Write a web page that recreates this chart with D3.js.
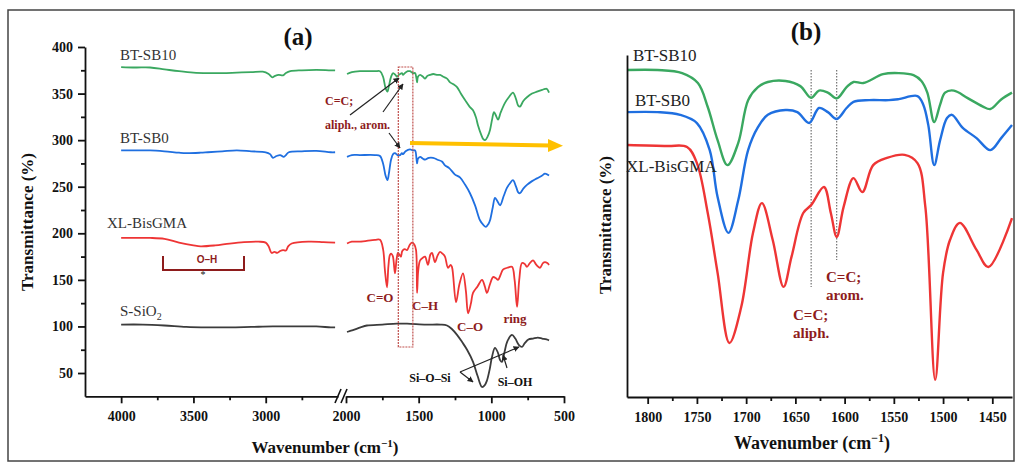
<!DOCTYPE html>
<html><head><meta charset="utf-8">
<script src="https://cdn.jsdelivr.net/npm/d3@7"></script>
<style>
html,body{margin:0;padding:0;background:#fff;}
svg{display:block;}
</style></head>
<body>
<svg id="c" width="1022" height="466"></svg>
<script>
// ---------------- Panel (a) data: [wavenumber cm-1, transmittance %] ----------------
const sb10A = [[4000,378.5],[3900,378],[3800,378],[3700,376],[3600,374],[3500,372.5],[3400,372],[3300,372],[3200,372.5],[3100,373],[3020,373.5],[2980,371],[2955,367.5],[2935,369],[2910,370],[2880,369.5],[2860,372],[2830,374],[2750,375],[2650,375.5],[2550,375],[2520,375],
 [1993,371],[1960,373],[1904,374],[1800,374],[1766,374],[1745,368],[1728,356],[1715,352],[1705,358],[1690,368],[1676,372],[1660,370],[1649,368],[1637,370],[1628,371],[1615,372],[1608,370],[1595,372],[1575,374],[1560,374],[1540,372],[1525,372],[1515,366],[1511,362],[1505,368],[1490,370],[1470,368],[1456,366],[1440,369],[1422,370],[1400,371],[1370,370],[1353,370],[1330,368],[1305,366],[1284,362],[1260,360],[1236,357],[1210,350],[1181,343],[1150,336],[1126,332],[1105,324],[1092,316],[1070,306],[1055,301],[1043,300],[1025,304],[1009,311],[995,322],[982,330],[970,327],[954,322],[935,330],[906,340],[880,346],[851,351],[830,344],[815,337],[803,336],[780,342],[755,346],[720,350],[686,352],[650,354],[630,355],[617,355],[603,351]];
const sb0A = [[4000,289],[3900,289],[3800,289],[3700,288],[3600,286.5],[3550,286],[3450,286.5],[3400,287],[3300,288],[3200,289],[3100,288],[3000,287],[2970,285],[2950,281],[2925,283],[2900,284],[2875,282],[2860,284],[2840,287],[2750,288],[2650,288.5],[2550,287],[2520,287],
 [1993,282],[1960,284],[1904,284],[1800,284],[1766,283],[1745,275],[1728,262],[1715,257],[1705,264],[1690,279],[1676,285],[1663,286],[1645,284],[1628,284],[1615,286],[1608,285],[1590,288],[1560,290],[1540,289],[1525,289],[1515,280],[1511,275],[1505,280],[1490,282],[1470,280],[1456,279],[1430,281],[1401,281],[1370,279],[1340,277],[1319,273],[1290,270],[1250,263],[1216,260],[1180,252],[1147,243],[1112,230],[1078,214],[1055,209],[1037,207],[1020,210],[1009,214],[990,228],[975,238],[960,235],[940,230],[915,240],[892,249],[870,254],[851,257],[830,250],[815,244],[803,243],[780,248],[755,252],[720,256],[686,259],[650,262],[631,264],[603,262]];
const xlA = [[4000,195],[3900,195],[3800,195],[3700,194],[3600,190],[3500,187],[3450,186],[3350,187],[3250,189],[3150,190.5],[3050,191],[3000,190],[2980,186],[2960,179],[2940,180],[2920,179],[2900,181],[2880,182],[2860,181.5],[2845,186],[2820,189],[2700,191],[2600,190.5],[2520,190],
 [1993,189],[1960,191],[1904,191],[1800,193],[1766,193],[1745,183],[1732,160],[1718,142],[1708,165],[1697,177],[1687,178],[1677,175],[1663,157],[1652,172],[1642,179],[1632,177],[1622,175],[1615,180],[1608,182],[1595,183],[1580,182],[1560,188],[1546,190],[1530,188],[1518,182],[1511,136],[1503,160],[1490,171],[1470,174],[1456,175],[1436,166],[1420,177],[1408,179],[1388,169],[1370,176],[1353,180],[1335,178],[1319,175],[1298,163],[1280,166],[1271,164],[1243,126],[1220,145],[1195,157],[1175,138],[1160,114],[1140,125],[1126,136],[1095,143],[1064,150],[1045,143],[1030,136],[1010,145],[988,153],[970,152],[954,150],[935,156],[920,161],[890,163],[858,164],[840,150],[823,121],[808,150],[789,168],[770,167],[755,164],[735,168],[713,171],[690,166],[666,163],[645,168],[631,169],[615,168],[603,166]];
const siA = [[4000,102],[3850,102],[3700,101],[3550,99.5],[3400,99],[3250,99],[3100,99.5],[2950,100],[2800,100],[2650,100],[2550,99],[2520,99],
 [1993,94],[1975,95],[1952,96],[1900,99],[1856,101],[1750,102],[1650,103],[1580,103],[1450,102],[1350,102],[1305,101],[1270,97],[1236,91],[1200,83],[1167,75],[1126,62],[1095,47],[1064,35],[1045,37],[1030,42],[1010,55],[996,67],[975,77],[955,72],[940,64],[927,62],[910,72],[890,84],[858,91],[835,87],[810,80],[789,78],[770,82],[745,86],[713,87],[680,88],[650,87],[620,86],[603,85]];
const seriesNamesA = ["BT-SB10","BT-SB0","XL-BisGMA","S-SiO2"];
const yTicksA = [50,100,150,200,250,300,350,400];
const yMinorA = [75,125,175,225,275,325,375];
const xTicksLeft = [4000,3500,3000];
const xMinorLeft = [3750,3250,2750];
const xTicksRight = [2000,1500,1000,500];
const xMinorRight = [1750,1250,750];

// ---------------- Panel (b) data: [wavenumber, transmittance (a.u.)] ----------------
const sb10B = [[1821,95.6],[1790,95.6],[1765,94.7],[1749,91.8],[1739,84.8],[1729,75.1],[1719,67.8],[1708,74.3],[1698,86.8],[1688,90.6],[1678,92.1],[1660,92.4],[1645,90.9],[1634,87.5],[1626,89.6],[1617,89.0],[1608,87.3],[1598,90.6],[1591,92.1],[1581,91.8],[1561,94.4],[1545,94.7],[1530,94.1],[1522,92.4],[1516,89.0],[1509,80.4],[1503,85.5],[1498,89.0],[1489,89.6],[1475,87.4],[1460,85.0],[1452,84.2],[1441,87.0],[1430,89.0]];
const sb0B = [[1821,83.3],[1790,83.3],[1767,82.5],[1750,80.1],[1737,72.2],[1729,58.5],[1718,48.0],[1708,57.6],[1698,72.2],[1688,78.9],[1678,82.5],[1660,83.9],[1648,83.3],[1636,80.1],[1626,84.5],[1617,83.3],[1608,81.3],[1598,84.5],[1591,86.3],[1575,86.8],[1555,86.8],[1545,87.1],[1526,88.0],[1520,85.4],[1515,79.5],[1509,67.8],[1503,75.1],[1496,81.6],[1491,82.5],[1480,78.7],[1466,75.7],[1452,72.2],[1441,75.7],[1430,79.5]];
const xlB = [[1821,73.7],[1780,73.4],[1760,73.1],[1750,68.4],[1739,53.8],[1729,36.3],[1717,15.8],[1705,26.3],[1693,48.0],[1684,56.7],[1673,45.9],[1662,32.2],[1654,40.9],[1642,53.8],[1634,56.1],[1621,61.4],[1614,53.8],[1608,46.8],[1601,55.6],[1591,64.0],[1582,59.9],[1571,67.8],[1557,69.9],[1539,70.8],[1526,68.4],[1518,55.6],[1508,5.0],[1500,36.3],[1493,45.9],[1483,50.9],[1466,43.0],[1454,38.0],[1430,52.3]];
const xTicksB = [1800,1750,1700,1650,1600,1550,1500,1450];
const xMinorB = [1775,1725,1675,1625,1575,1525,1475];
const markersB = [1634,1608];

const colors = {green:"#3aa860", blue:"#1f6fe0", red:"#ee3535", gray:"#3c3c3c", ann:"#8e1c1c"};
const serif = "'Liberation Serif','Times New Roman',serif";
const fmt = d3.format("d");

const svg = d3.select("#c");
svg.append("rect").attr("x",8).attr("y",10).attr("width",1006).attr("height",451)
  .attr("fill","none").attr("stroke","#444").attr("stroke-width",1.5);

const defs = svg.append("defs");
defs.append("marker").attr("id","ah").attr("viewBox","0 0 10 10").attr("refX",9).attr("refY",5)
  .attr("markerWidth",5).attr("markerHeight",5).attr("orient","auto")
  .append("path").attr("d","M0,0L10,5L0,10z").attr("fill","#222");

function styleTicks(g, size){
  g.attr("font-family", serif);
  g.selectAll(".tick text").attr("font-family",serif).attr("font-weight","bold")
    .attr("font-size",size).attr("fill","#111");
}

// ================= Panel (a) =================
const yA = d3.scaleLinear().domain([25,400]).range([396.3,47]);
const xL = d3.scaleLinear().domain([4250,2500]).range([85,338]);
const xR = d3.scaleLinear().domain([2000,500]).range([346,564]);
const gA = svg.append("g");

function seg(data, left){ return data.filter(d => left ? d[0] > 2250 : d[0] < 2250); }
const lineL = d3.line().x(d=>xL(d[0])).y(d=>yA(d[1])).curve(d3.curveCatmullRom.alpha(0.5));
const lineR = d3.line().x(d=>xR(d[0])).y(d=>yA(d[1])).curve(d3.curveCatmullRom.alpha(0.5));
[[sb10A,colors.green],[sb0A,colors.blue],[xlA,colors.red],[siA,colors.gray]].forEach(([d,c])=>{
  gA.append("path").attr("d",lineL(seg(d,true))).attr("fill","none").attr("stroke",c).attr("stroke-width",1.8);
  gA.append("path").attr("d",lineR(seg(d,false))).attr("fill","none").attr("stroke",c).attr("stroke-width",1.8);
});

const yAx = gA.append("g").attr("transform","translate(85,0)")
  .call(d3.axisLeft(yA).tickValues(yTicksA).tickFormat(fmt).tickSize(7).tickPadding(5).tickSizeOuter(0));
styleTicks(yAx, 14);
gA.append("g").attr("transform","translate(85,0)")
  .call(d3.axisLeft(yA).tickValues(yMinorA).tickSize(4).tickFormat("").tickSizeOuter(0))
  .select(".domain").remove();
function xAxis(scale, major, minor){
  const g = gA.append("g").attr("transform","translate(0,396.3)")
    .call(d3.axisBottom(scale).tickValues(major).tickFormat(fmt).tickSize(7).tickPadding(8).tickSizeOuter(0));
  styleTicks(g, 14);
  gA.append("g").attr("transform","translate(0,396.3)")
    .call(d3.axisBottom(scale).tickValues(minor).tickSize(4).tickFormat("").tickSizeOuter(0))
    .select(".domain").remove();
}
xAxis(xL, xTicksLeft, xMinorLeft);
xAxis(xR, xTicksRight, xMinorRight);
gA.selectAll(".domain, .tick line").attr("stroke","#111").attr("stroke-width",1.8);
[[335,341],[341,347]].forEach(([a,b])=>{
  gA.append("line").attr("x1",a).attr("y1",403).attr("x2",b).attr("y2",389).attr("stroke","#111").attr("stroke-width",1.6);
});

gA.append("text").attr("x",325).attr("y",453).attr("text-anchor","middle")
  .attr("font-family",serif).attr("font-weight","bold").attr("font-size",17).attr("fill","#111")
  .html('Wavenumber (cm<tspan dy="-6" font-size="11">−1</tspan><tspan dy="6">)</tspan>');
gA.append("text").attr("transform","translate(33,222) rotate(-90)").attr("text-anchor","middle")
  .attr("font-family",serif).attr("font-weight","bold").attr("font-size",17).attr("fill","#111")
  .text("Transmittance (%)");
gA.append("text").attr("x",298).attr("y",45).attr("text-anchor","middle")
  .attr("font-family",serif).attr("font-weight","bold").attr("font-size",25).attr("fill","#111").text("(a)");

const labA = [[120,60,seriesNamesA[0]],[120,143,seriesNamesA[1]],[107,228,seriesNamesA[2]]];
labA.forEach(([x,y,t])=>gA.append("text").attr("x",x).attr("y",y).attr("font-family",serif)
  .attr("font-size",15).attr("fill","#333").text(t));
gA.append("text").attr("x",120).attr("y",316).attr("font-family",serif).attr("font-size",15).attr("fill","#333")
  .html('S-SiO<tspan dy="4" font-size="10">2</tspan>');

const ann = gA.append("g").attr("font-family",serif).attr("font-weight","bold").attr("fill",colors.ann);
ann.append("text").attr("x",325).attr("y",105).attr("font-size",12).text("C=C;");
ann.append("text").attr("x",325).attr("y",129).attr("font-size",12).text("aliph., arom.");
ann.append("text").attr("x",380).attr("y",302).attr("text-anchor","middle").attr("font-size",13).text("C=O");
ann.append("text").attr("x",425).attr("y",310).attr("text-anchor","middle").attr("font-size",13).text("C–H");
ann.append("text").attr("x",470).attr("y",331).attr("text-anchor","middle").attr("font-size",13).text("C–O");
ann.append("text").attr("x",515).attr("y",323).attr("text-anchor","middle").attr("font-size",13).text("ring");
gA.append("path").attr("d","M163,256V270H244V256").attr("fill","none").attr("stroke",colors.ann).attr("stroke-width",2);
gA.append("text").attr("x",207).attr("y",263).attr("text-anchor","middle").attr("font-family","'Liberation Sans',Arial,sans-serif")
  .attr("font-weight","bold").attr("font-size",10).attr("fill",colors.ann).text("O–H");
gA.append("text").attr("x",203).attr("y",278).attr("text-anchor","middle").attr("font-size",10).attr("fill","#111").text("*");
gA.append("rect").attr("x",xR(1640)).attr("y",67).attr("width",xR(1540)-xR(1640)).attr("height",280)
  .attr("fill","none").attr("stroke","#c0504d").attr("stroke-width",1.2).attr("stroke-dasharray","2,1");
gA.append("line").attr("x1",410).attr("y1",143).attr("x2",550).attr("y2",145.5).attr("stroke","#ffc000").attr("stroke-width",4);
gA.append("path").attr("d","M548,139L563,145.7L548,152Z").attr("fill","#ffc000");
[[350,115,399,78],[383,112,403,84],[389,133,400,148],[460,372,473,382],[460,372,519,347],[507,368,503,355]].forEach(([a,b,c,d])=>{
  gA.append("line").attr("x1",a).attr("y1",b).attr("x2",c).attr("y2",d).attr("stroke","#222").attr("stroke-width",1.2).attr("marker-end","url(#ah)");
});
gA.append("text").attr("x",430).attr("y",382).attr("text-anchor","middle").attr("font-family",serif)
  .attr("font-weight","bold").attr("font-size",12).attr("fill","#111").text("Si–O–Si");
gA.append("text").attr("x",515).attr("y",386).attr("text-anchor","middle").attr("font-family",serif)
  .attr("font-weight","bold").attr("font-size",12).attr("fill","#111").text("Si–OH");

// ================= Panel (b) =================
const xB = d3.scaleLinear().domain([1821,1430]).range([627,1012]);
const yB = d3.scaleLinear().domain([0,100]).range([397,55]);
const gB = svg.append("g");
const lineB = d3.line().x(d=>xB(d[0])).y(d=>yB(d[1])).curve(d3.curveCatmullRom.alpha(0.5));
markersB.forEach((w,i)=>{
  gB.append("line").attr("x1",xB(w)).attr("x2",xB(w)).attr("y1",70).attr("y2",i===0?287:260)
    .attr("stroke","#555").attr("stroke-width",1).attr("stroke-dasharray","1.5,1.5");
});
[[sb10B,colors.green],[sb0B,colors.blue],[xlB,colors.red]].forEach(([d,c])=>{
  gB.append("path").attr("d",lineB(d)).attr("fill","none").attr("stroke",c).attr("stroke-width",2.4);
});
const xBx = gB.append("g").attr("transform","translate(0,397)")
  .call(d3.axisBottom(xB).tickValues(xTicksB).tickFormat(fmt).tickSize(7).tickPadding(8).tickSizeOuter(0));
styleTicks(xBx, 14);
gB.append("g").attr("transform","translate(0,397)")
  .call(d3.axisBottom(xB).tickValues(xMinorB).tickSize(4).tickFormat("").tickSizeOuter(0))
  .select(".domain").remove();
gB.append("g").attr("transform","translate(627,0)")
  .call(d3.axisLeft(yB).tickValues([]).tickSizeOuter(0));
gB.selectAll(".domain, .tick line").attr("stroke","#111").attr("stroke-width",1.8);

gB.append("text").attr("x",812).attr("y",449).attr("text-anchor","middle")
  .attr("font-family",serif).attr("font-weight","bold").attr("font-size",18).attr("fill","#111")
  .html('Wavenumber (cm<tspan dy="-7" font-size="12">−1</tspan><tspan dy="7">)</tspan>');
gB.append("text").attr("transform","translate(611,225) rotate(-90)").attr("text-anchor","middle")
  .attr("font-family",serif).attr("font-weight","bold").attr("font-size",17).attr("fill","#111")
  .text("Transmittance (%)");
gB.append("text").attr("x",806).attr("y",40).attr("text-anchor","middle")
  .attr("font-family",serif).attr("font-weight","bold").attr("font-size",25).attr("fill","#111").text("(b)");
[[633,61,"BT-SB10"],[635,106,"BT-SB0"],[626,172,"XL-BisGMA"]].forEach(([x,y,t])=>gB.append("text")
  .attr("x",x).attr("y",y).attr("font-family",serif).attr("font-size",17).attr("fill","#222").text(t));
const annB = gB.append("g").attr("font-family",serif).attr("font-weight","bold").attr("font-size",15).attr("fill",colors.ann);
annB.append("text").attr("x",826).attr("y",282).text("C=C;");
annB.append("text").attr("x",826).attr("y",300).text("arom.");
annB.append("text").attr("x",793).attr("y",320).text("C=C;");
annB.append("text").attr("x",793).attr("y",338).text("aliph.");
</script>
</body></html>
